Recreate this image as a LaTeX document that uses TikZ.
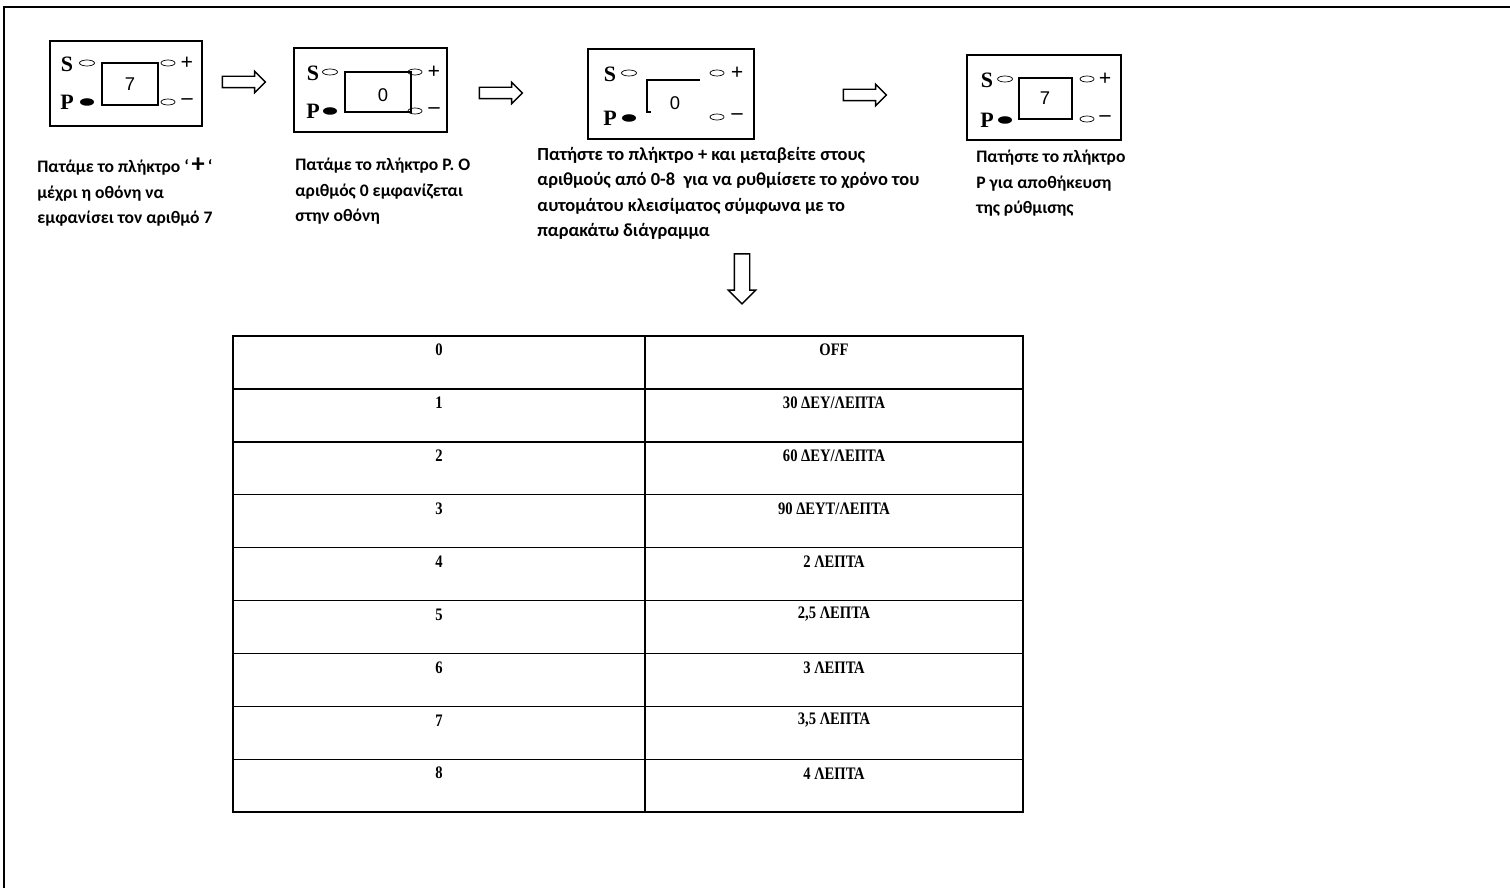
\documentclass[tikz,border=0pt]{standalone}
\usepackage{fontspec}
\setmainfont{Liberation Serif}
\newfontfamily\capfont{Carlito}
\newfontfamily\digitfont{Liberation Sans}
\newfontfamily\keyfont{Liberation Serif}
\newfontfamily\tabfont[FakeStretch=0.83]{Liberation Serif}
\usetikzlibrary{shapes.arrows}

\begin{document}
\begin{tikzpicture}[x=0.02cm, y=-0.02cm,
    boxline/.style={line width=1.1pt},
    displine/.style={line width=0.8pt},
    keylabel/.style={font=\keyfont\bfseries\fontsize{12.5}{12.5}\selectfont, inner sep=0pt},
    digit/.style={font=\digitfont\fontsize{10.5}{10.5}\selectfont, inner sep=0pt},
    caption/.style={font=\capfont\bfseries\fontsize{10}{14.5}\selectfont, align=left, anchor=north west, inner sep=0pt},
    blockarrow/.style={single arrow, draw, line width=0.8pt, inner sep=0.1cm, single arrow head extend=0.1cm, minimum height=0.86cm},
    cell/.style={font=\tabfont\bfseries\fontsize{10}{10}\selectfont, inner sep=0pt}]
    \useasboundingbox (0,0) rectangle (1510,888);
    \draw[line width=1.1pt] (1510,7) -- (4,7) -- (4,888);

    % panel 1
    \draw[boxline] (50,41) rectangle (202,126);
    \draw[displine] (102,63) rectangle (158,105);
    \node[digit] (d1) at (130,84) {7};
    \node[keylabel] (s1) at (67,64) {S};
    \node[keylabel] (p1) at (67,102) {P};
    \draw (87,63) ellipse [x radius=0.15cm, y radius=0.06cm];
    \fill (87,102) ellipse [x radius=0.14cm, y radius=0.075cm];
    \draw (168,63) ellipse [x radius=0.14cm, y radius=0.06cm];
    \draw (168,102) ellipse [x radius=0.14cm, y radius=0.06cm];
    \node[keylabel] (u1) at (187,63) {+};
    \node[keylabel] (m1) at (187,102) {–};

    % panel 2
    \draw[boxline] (294,48) rectangle (447,132);
    \draw[displine] (345,72) rectangle (411,112);
    \node[digit] (d2) at (383,95) {0};
    \node[keylabel] (s2) at (313,73) {S};
    \node[keylabel] (p2) at (313,111) {P};
    \draw (330,72) ellipse [x radius=0.15cm, y radius=0.06cm];
    \fill (330,111) ellipse [x radius=0.14cm, y radius=0.075cm];
    \draw (415,72) ellipse [x radius=0.14cm, y radius=0.06cm];
    \draw (415,111) ellipse [x radius=0.14cm, y radius=0.06cm];
    \node[keylabel] (u2) at (434,72) {+};
    \node[keylabel] (m2) at (434,111) {–};

    % panel 3
    \draw[boxline] (588,49) rectangle (754,139);
    \draw[displine] (700,80) -- (647,80) -- (647,112) -- (651,112);
    \node[digit] (d3) at (675,103) {0};
    \node[keylabel] (s3) at (610,74) {S};
    \node[keylabel] (p3) at (610,118) {P};
    \draw (629,73) ellipse [x radius=0.15cm, y radius=0.06cm];
    \fill (629,118) ellipse [x radius=0.14cm, y radius=0.075cm];
    \draw (717,73) ellipse [x radius=0.14cm, y radius=0.06cm];
    \draw (717,117) ellipse [x radius=0.14cm, y radius=0.06cm];
    \node[keylabel] (u3) at (737,73) {+};
    \node[keylabel] (m3) at (737,117) {–};

    % panel 4
    \draw[boxline] (967,55) rectangle (1121,140);
    \draw[displine] (1019,78) rectangle (1072,119);
    \node[digit] (d4) at (1045,98) {7};
    \node[keylabel] (s4) at (987,80) {S};
    \node[keylabel] (p4) at (987,120) {P};
    \draw (1005,79) ellipse [x radius=0.15cm, y radius=0.06cm];
    \fill (1005,120) ellipse [x radius=0.14cm, y radius=0.075cm];
    \draw (1087,79) ellipse [x radius=0.14cm, y radius=0.06cm];
    \draw (1087,119) ellipse [x radius=0.14cm, y radius=0.06cm];
    \node[keylabel] (u4) at (1105,79) {+};
    \node[keylabel] (m4) at (1105,119) {–};

    % arrows between the panels
    \node[blockarrow] (a1) at (241,82) {};
    \node[blockarrow] (a2) at (498,93) {};
    \node[blockarrow] (a3) at (862,95) {};
    \node[blockarrow, rotate=-90, minimum height=1.0cm, inner sep=0.14cm, single arrow head extend=0.12cm] (a4) at (742,275) {};

    % captions
    \node[caption] (c1) at (37,158) {Πατάμε το πλήκτρο ‘\,{\fontsize{15}{14}\selectfont +}\,‘\\μέχρι η οθόνη να\\εμφανίσει τον αριθμό 7};
    \node[caption] (c2) at (295,158) {Πατάμε το πλήκτρο P. O\\αριθμός 0 εμφανίζεται\\στην οθόνη};
    \node[caption, font=\capfont\bfseries\fontsize{10.5}{14.5}\selectfont] (c3) at (537,147) {Πατήστε το πλήκτρο + και μεταβείτε στους\\αριθμούς από 0-8~ για να ρυθμίσετε το χρόνο του\\αυτομάτου κλεισίματος σύμφωνα με το\\παρακάτω διάγραμμα};
    \node[caption] (c4) at (976,150) {Πατήστε το πλήκτρο\\P για αποθήκευση\\της ρύθμισης};

    % table
    \draw[line width=0.8pt] (233,336) rectangle (1023,812);
    \draw[line width=0.8pt] (645,336) -- (645,812);
    \foreach \i in {1,...,8}
        \draw[line width=0.8pt] (233,{336+52.9*\i}) -- (1023,{336+52.9*\i});
    \foreach \t [count=\i from 0] in {OFF,{30 ΔΕΥ/ΛΕΠΤΑ},{60 ΔΕΥ/ΛΕΠΤΑ},{90 ΔΕΥΤ/ΛΕΠΤΑ},{2 ΛΕΠΤΑ},{2,5 ΛΕΠΤΑ},{3 ΛΕΠΤΑ},{3,5 ΛΕΠΤΑ},{4 ΛΕΠΤΑ}} {
        \node[cell] (n\i) at (439,{350+52.9*\i}) {\i};
        \node[cell] (t\i) at (834,{350+52.9*\i}) {\t};
    }
\end{tikzpicture}
\end{document}
